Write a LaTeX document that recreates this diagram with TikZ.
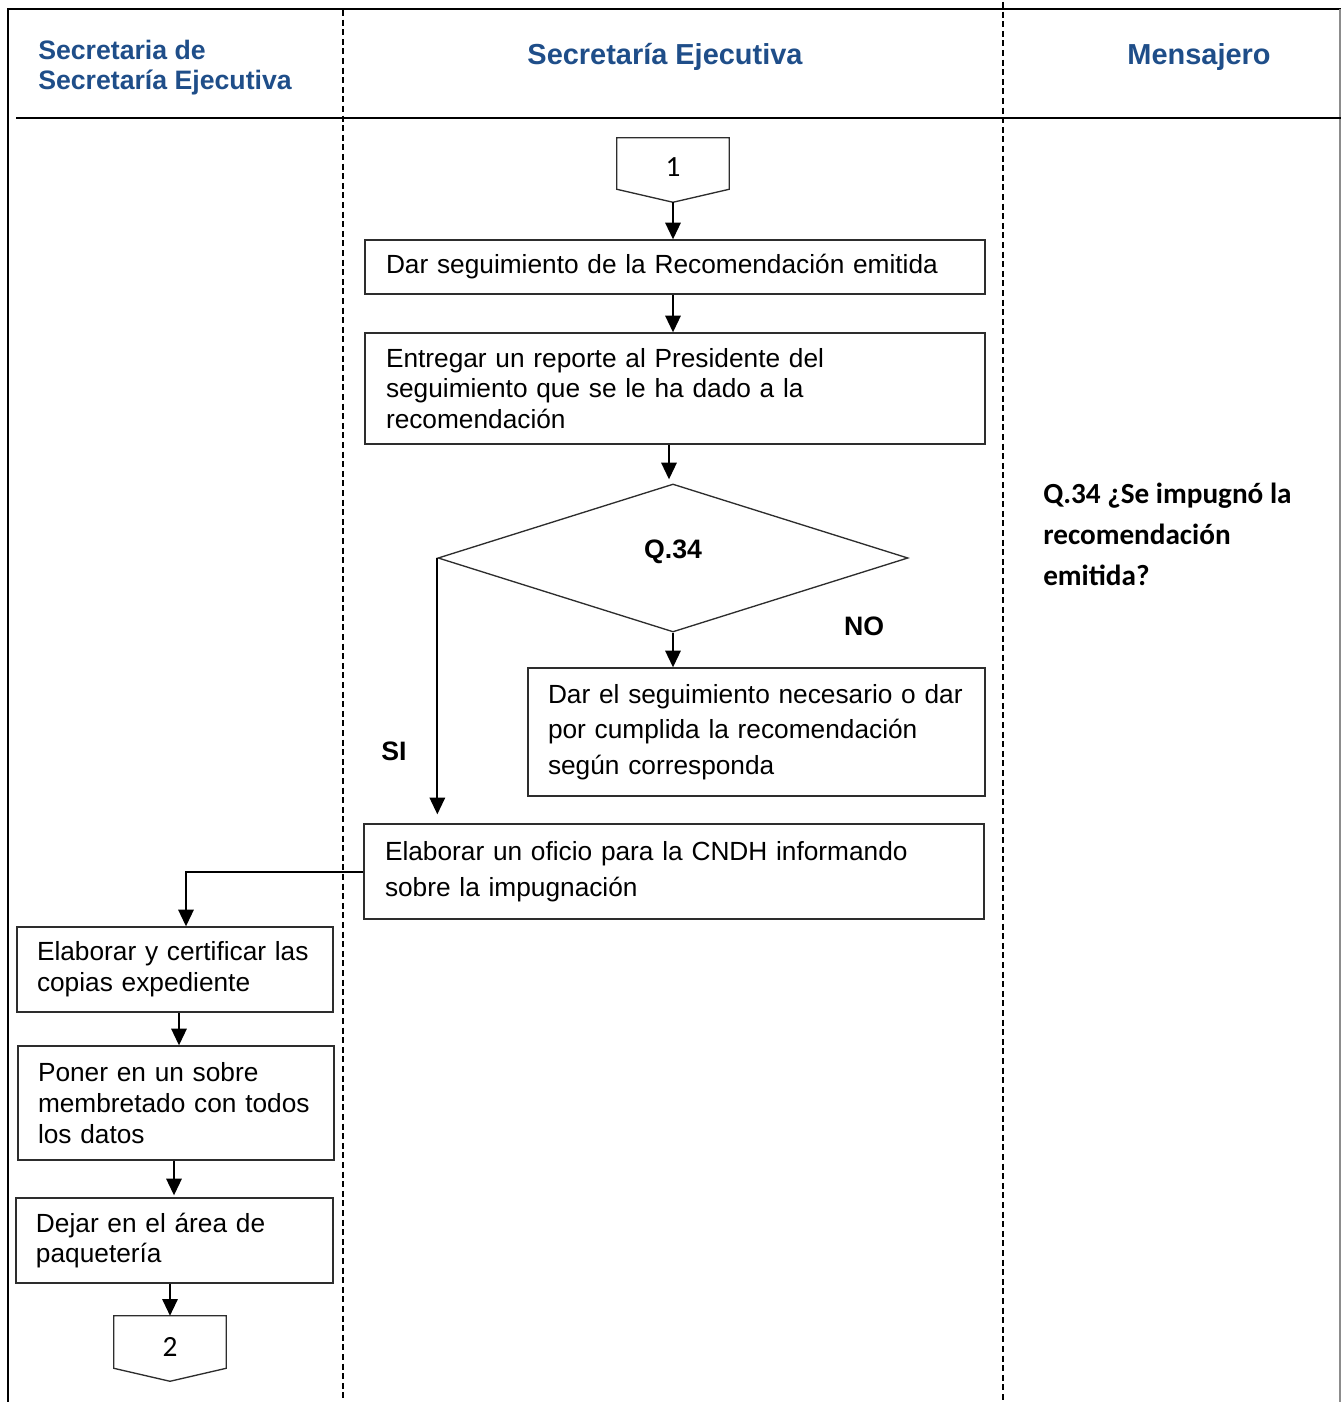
\documentclass[tikz,border=0pt]{standalone}
\usepackage{fontspec}
\setmainfont{Liberation Sans}
\newfontfamily\calib{Carlito}
\usetikzlibrary{arrows.meta,calc,shapes.geometric}
\definecolor{hdr}{RGB}{31,78,137}
\definecolor{boxline}{RGB}{45,45,45}
\begin{document}
\begin{tikzpicture}[x=0.75pt,y=-0.75pt,
  lane/.style={line width=1.5pt, black},
  lanedash/.style={line width=1.5pt, black, dash pattern=on 4.5pt off 2.7pt},
  arr/.style={line width=1.5pt, black, -{Triangle[length=12.5pt,width=11.5pt]}},
  box/.style={draw=boxline, line width=1pt, inner xsep=15.75pt, inner ysep=0pt, align=left, anchor=center},
  f23/.style={font=\fontsize{19.7}{23}\selectfont},
  f27/.style={font=\fontsize{19.7}{26.6}\selectfont},
  hdrtext/.style={text=hdr, inner sep=0pt},
  lbl/.style={inner sep=0pt, font=\bfseries\fontsize{20}{23}\selectfont},
  offpage/.style={inner sep=0pt, minimum width=84pt, minimum height=38.25pt, font=\calib\fontsize{22}{25}\selectfont},
  offline/.style={draw=boxline, line width=1pt}
]
\useasboundingbox (0,0) rectangle (1341,1402);

% frame and lanes
\draw[lane] (8,1402) -- (8,9) -- (1341,9);
\draw[line width=1.5pt, black!45] (1340,9) -- (1340,1402);
\draw[lane] (16,118) -- (1341,118);
\draw[lanedash] (343,10) -- (343,1402);
\draw[lanedash] (1003,2) -- (1003,1402);

% headers
\node[hdrtext, anchor=west, align=left, font=\bfseries\fontsize{20}{22.5}\selectfont] (h1) at (38,68) {Secretaria de\\Secretaría Ejecutiva};
\node[hdrtext, font=\bfseries\fontsize{21.7}{25}\selectfont] (h2) at (665,57) {Secretaría Ejecutiva};
\node[hdrtext, font=\bfseries\fontsize{21.7}{25}\selectfont] (h3) at (1199,57) {Mensajero};

% off-page connector 1
\node[offpage] (c1) at (673,163.5) {\raisebox{-9.6pt}[0pt][0pt]{1}};
\coordinate (c1tip) at ($(c1.south)+(0,13)$);
\draw[offline] (c1.north west) -- (c1.north east) -- (c1.south east) -- (c1tip) -- (c1.south west) -- cycle;

% process boxes
\node[box, f23, minimum width=465pt, text width=433.5pt, minimum height=40.5pt] (b1) at (675,267) {Dar seguimiento de la Recomendación emitida};
\node[box, f23, minimum width=465pt, text width=433.5pt, minimum height=83.25pt] (b2) at (675,388.5) {Entregar un reporte al Presidente del\\seguimiento que se le ha dado a la\\recomendación};
\node[draw=boxline, line width=1pt, diamond, minimum width=352.5pt, minimum height=111pt, inner sep=0pt, font=\bfseries\fontsize{20}{23}\selectfont] (dia) at (673,558) {\raisebox{12.5pt}{Q.34}};
\node[box, f27, inner xsep=15pt, minimum width=342.75pt, text width=312.75pt, minimum height=96pt] (b3) at (756.5,732) {\mbox{Dar el seguimiento necesario o dar}\\\mbox{por cumplida la recomendación}\\\mbox{según corresponda}};
\node[box, f27, minimum width=465pt, text width=433.5pt, minimum height=71.25pt] (b4) at (674,871.5) {\mbox{Elaborar un oficio para la CNDH informando}\\sobre la impugnación};
\node[box, f23, inner xsep=15pt, minimum width=237pt, text width=207pt, minimum height=63.75pt] (b5) at (175,969.5) {\mbox{Elaborar y certificar las}\\copias expediente};
\node[box, f23, inner xsep=15pt, minimum width=237pt, text width=207pt, minimum height=85.5pt] (b6) at (176,1103) {Poner en un sobre\\\mbox{membretado con todos}\\los datos};
\node[box, f23, inner xsep=15pt, minimum width=237.75pt, text width=207.75pt, minimum height=63.75pt] (b7) at (174.5,1240.5) {Dejar en el área de\\paquetería};

% off-page connector 2
\node[offpage, minimum height=39pt] (c2) at (170,1342) {\raisebox{-10.75pt}[0pt][0pt]{2}};
\coordinate (c2tip) at ($(c2.south)+(0,13)$);
\draw[offline] (c2.north west) -- (c2.north east) -- (c2.south east) -- (c2tip) -- (c2.south west) -- cycle;

% labels
\node[lbl] (no) at (864,626) {NO};
\node[lbl] (si) at (394,751) {SI};
\node[anchor=west, align=left, inner sep=0pt, font=\calib\bfseries\fontsize{21.9}{30.75}\selectfont] (q) at (1043,534) {Q.34 ¿Se impugnó la\\recomendación\\emitida?};

% connectors
\draw[arr] (c1tip) -- (c1tip |- b1.north);
\draw[arr] (c1tip |- b1.south) -- (c1tip |- b2.north);
\draw[arr, shorten >=3pt] ($(b2.south)+(-6,0)$) -- ($(b2.south |- dia.north)+(-6,0)$);
\draw[arr] (dia.south) -- (dia.south |- b3.north);
\draw[arr, shorten >=6.75pt] (dia.west) -- (dia.west |- b4.north);
\draw[arr] (b4.west) -| ($(b5.north)+(11,0)$);
\draw[arr] ($(b5.south)+(4,0)$) -- ($(b5.south |- b6.north)+(4,0)$);
\draw[arr, shorten >=1.5pt] ($(b6.south)+(-2,0)$) -- ($(b6.south |- b7.north)+(-2,0)$);
\draw[arr] (c2.north |- b7.south) -- (c2.north);
\end{tikzpicture}
\end{document}
